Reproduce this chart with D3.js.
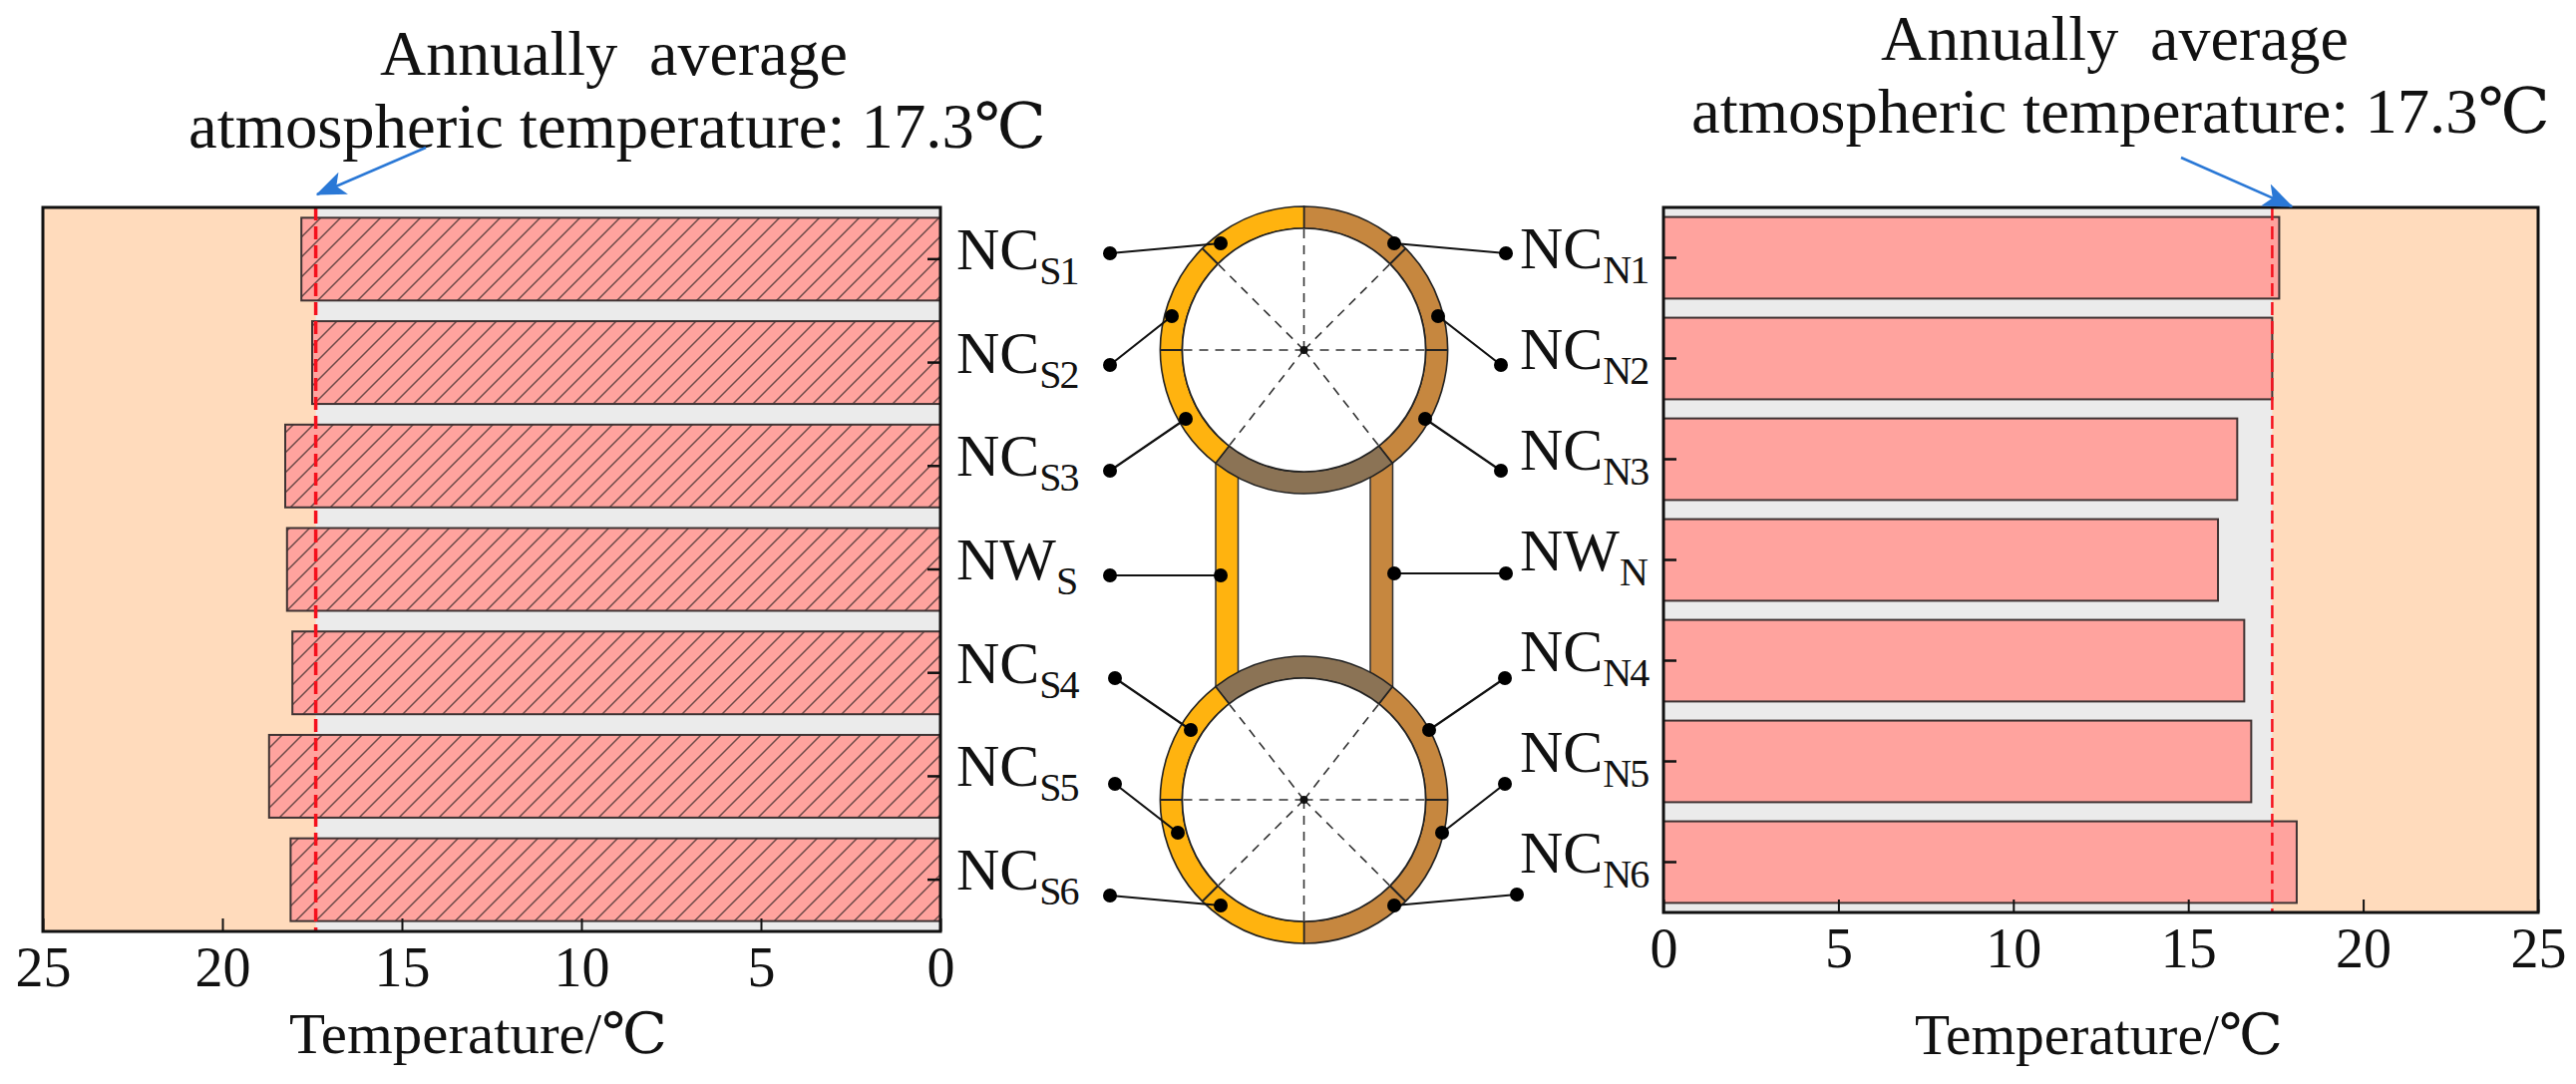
<!DOCTYPE html>
<html>
<head>
<meta charset="utf-8">
<script src="https://cdn.jsdelivr.net/npm/d3@7"></script>
<style>
  body { margin: 0; background: #fff; }
  text { font-family: "Liberation Serif", "DejaVu Serif", "Noto Sans CJK SC", serif; fill: #111; }
</style>
</head>
<body>
<div id="chart"></div>
<script>
const southLabels = ["NCS1", "NCS2", "NCS3", "NWS", "NCS4", "NCS5", "NCS6"];
const northLabels = ["NCN1", "NCN2", "NCN3", "NWN", "NCN4", "NCN5", "NCN6"];
const southTemps = [17.8, 17.5, 18.25, 18.2, 18.05, 18.7, 18.1];
const northTemps = [17.6, 17.4, 16.4, 15.85, 16.6, 16.8, 18.1];
const tempTicks = [0, 5, 10, 15, 20, 25];
const tempMax = 25;
const refTemp = 17.4; // where the dashed line sits, the caption rounds it to 17.3
const captionLines = ["Annually  average", "atmospheric temperature: 17.3℃"];
const axisTitle = "Temperature/℃";

// schematic geometry of the cross section, not data
const leadersSouth = [
  [1113, 254, 1224, 244], [1113, 366, 1175, 317], [1113, 472, 1189, 420],
  [1113, 577, 1224, 577], [1118, 680, 1194, 732], [1118, 786, 1181, 835],
  [1113, 898, 1224, 908]
];
const leadersNorth = [
  [1510, 254, 1398, 244], [1505, 366, 1442, 317], [1505, 472, 1429, 420],
  [1510, 575, 1398, 575], [1509, 680, 1433, 732], [1509, 786, 1446, 835],
  [1521, 897, 1398, 908]
];

const svg = d3.select("#chart").append("svg")
  .attr("width", 2583)
  .attr("height", 1087)
  .style("display", "block");

const defs = svg.append("defs");
defs.append("pattern")
  .attr("id", "hatch")
  .attr("patternUnits", "userSpaceOnUse")
  .attr("width", 20)
  .attr("height", 20)
  .call((p) => p.append("rect").attr("width", 20).attr("height", 20).attr("fill", "#ffa39e"))
  .call((p) => p.append("path")
    .attr("d", "M-5,5L5,-5M0,20L20,0M15,25L25,15")
    .attr("stroke", "#6e4a48")
    .attr("stroke-width", 1.5));
defs.append("marker")
  .attr("id", "arrow")
  .attr("viewBox", "0 0 20 16")
  .attr("refX", 19)
  .attr("refY", 8)
  .attr("markerUnits", "userSpaceOnUse")
  .attr("markerWidth", 30)
  .attr("markerHeight", 24)
  .attr("orient", "auto")
  .append("path")
  .attr("d", "M0,0L20,8L0,16L5,8Z")
  .attr("fill", "#2a78d6");

function drawPanel({ labels, temps, xRange, yRange, padding, hatched, side }) {
  const x = d3.scaleLinear().domain(side === "south" ? [tempMax, 0] : [0, tempMax]).range(xRange);
  const y = d3.scaleBand().domain(labels).range(yRange).paddingInner(padding).paddingOuter(padding / 2);
  const g = svg.append("g");
  const xZero = x(0);
  const rectX = (v) => Math.min(xZero, x(v));
  const rectW = (v) => Math.abs(x(v) - xZero);

  // background, grey below the atmospheric temperature and peach above it
  g.append("rect")
    .attr("x", Math.min(x(tempMax), xZero))
    .attr("y", yRange[0])
    .attr("width", rectW(tempMax))
    .attr("height", yRange[1] - yRange[0])
    .attr("fill", "#ffdbbc");
  g.append("rect")
    .attr("x", rectX(refTemp))
    .attr("y", yRange[0])
    .attr("width", rectW(refTemp))
    .attr("height", yRange[1] - yRange[0])
    .attr("fill", "#ebebeb");

  g.selectAll(".bar")
    .data(labels)
    .join("rect")
    .attr("class", "bar")
    .attr("x", (d, i) => rectX(temps[i]))
    .attr("y", (d) => y(d))
    .attr("width", (d, i) => rectW(temps[i]))
    .attr("height", y.bandwidth())
    .attr("fill", hatched ? "url(#hatch)" : "#ffa39e")
    .attr("stroke", "#3f3333")
    .attr("stroke-width", 2);

  g.append("line")
    .attr("x1", x(refTemp))
    .attr("x2", x(refTemp))
    .attr("y1", yRange[0])
    .attr("y2", yRange[1])
    .attr("stroke", "#f5101c")
    .attr("stroke-width", hatched ? 3.5 : 2.5)
    .attr("stroke-dasharray", "13 6");

  const xAxis = d3.axisBottom(x)
    .tickValues(tempTicks)
    .tickSizeInner(-13)
    .tickSizeOuter(0)
    .tickPadding(15);
  const gx = g.append("g")
    .attr("transform", `translate(0,${yRange[1]})`)
    .call(xAxis);
  gx.selectAll("text").attr("font-size", 56).style("font-family", "'Liberation Serif'");
  gx.selectAll(".tick line").attr("stroke", "#111").attr("stroke-width", 2);

  const yAxis = (side === "south" ? d3.axisLeft(y) : d3.axisRight(y))
    .tickSizeInner(13)
    .tickSizeOuter(0)
    .tickFormat("");
  const gy = g.append("g")
    .attr("transform", `translate(${xZero},0)`)
    .call(yAxis);
  gy.selectAll(".tick line").attr("stroke", "#111").attr("stroke-width", 2.5);
  gy.select(".domain").remove();
  gx.select(".domain").remove();

  g.append("rect")
    .attr("x", Math.min(x(tempMax), xZero))
    .attr("y", yRange[0])
    .attr("width", rectW(tempMax))
    .attr("height", yRange[1] - yRange[0])
    .attr("fill", "none")
    .attr("stroke", "#111")
    .attr("stroke-width", 3);

  return { x, y };
}

const south = drawPanel({
  labels: southLabels, temps: southTemps, xRange: [43, 943], yRange: [208, 934],
  padding: 0.2, hatched: true, side: "south"
});
const north = drawPanel({
  labels: northLabels, temps: northTemps, xRange: [1668, 2545], yRange: [208, 915],
  padding: 0.19, hatched: false, side: "north"
});

// stretched to the width of the serif face in the original figure
function fitText(x, y, size, width, str) {
  svg.append("text")
    .attr("x", x)
    .attr("y", y)
    .attr("font-size", size)
    .attr("textLength", width)
    .attr("lengthAdjust", "spacingAndGlyphs")
    .style("white-space", "pre")
    .text(str);
}
fitText(381, 75, 63, 469, captionLines[0]);
fitText(189, 148, 63, 860, captionLines[1]);
fitText(1886, 60, 63, 469, captionLines[0]);
fitText(1696, 133, 63, 861, captionLines[1]);
fitText(290, 1056, 57, 379, axisTitle);
fitText(1920, 1057, 57, 369, axisTitle);

svg.append("line")
  .attr("x1", 427).attr("y1", 148).attr("x2", 318).attr("y2", 195)
  .attr("stroke", "#2a78d6").attr("stroke-width", 2.5).attr("marker-end", "url(#arrow)");
svg.append("line")
  .attr("x1", 2187).attr("y1", 158).attr("x2", 2298).attr("y2", 207)
  .attr("stroke", "#2a78d6").attr("stroke-width", 2.5).attr("marker-end", "url(#arrow)");

// cross section: two rings joined by the side walls
const cx = 1307.5;
const outerR = 144;
const innerR = 122;
const rad = Math.PI / 180;
const ringArc = d3.arc().innerRadius(innerR).outerRadius(outerR);
const orange = "#ffb30f";
const brown = "#c6873f";
const slab = "#8b7355";

const section = svg.append("g");
[[1219, orange], [1374, brown]].forEach(([wallX, fill]) => {
  section.append("rect")
    .attr("x", wallX)
    .attr("y", 460)
    .attr("width", 22.5)
    .attr("height", 232)
    .attr("fill", fill)
    .attr("stroke", "#333")
    .attr("stroke-width", 1.5);
});

function drawRing(cy, slabAt, spokes) {
  const flip = slabAt === 180 ? 1 : -1;
  const ring = section.append("g").attr("transform", `translate(${cx},${cy})`);
  const sectors = slabAt === 180
    ? [[0, 142, brown], [142, 218, slab], [218, 360, orange]]
    : [[38, 180, brown], [-38, 38, slab], [180, 322, orange]];
  ring.selectAll("path")
    .data(sectors)
    .join("path")
    .attr("d", (d) => ringArc({ startAngle: d[0] * rad, endAngle: d[1] * rad }))
    .attr("fill", (d) => d[2])
    .attr("stroke", "#222")
    .attr("stroke-width", 1.6);
  ring.append("circle").attr("r", innerR).attr("fill", "#fff").attr("stroke", "#222").attr("stroke-width", 1.6);
  ring.selectAll(".spoke")
    .data(spokes)
    .join("line")
    .attr("class", "spoke")
    .attr("x2", (a) => innerR * Math.sin(a * rad))
    .attr("y2", (a) => -innerR * Math.cos(a * rad))
    .attr("stroke", "#333")
    .attr("stroke-width", 1.6)
    .attr("stroke-dasharray", "9 7");
  ring.selectAll(".divider")
    .data([45, -45, 90, -90])
    .join("line")
    .attr("class", "divider")
    .attr("x1", (a) => innerR * Math.sin(a * rad))
    .attr("y1", (a) => -innerR * Math.cos(a * rad) * flip)
    .attr("x2", (a) => outerR * Math.sin(a * rad))
    .attr("y2", (a) => -outerR * Math.cos(a * rad) * flip)
    .attr("stroke", "#222")
    .attr("stroke-width", 2);
  ring.append("circle").attr("r", 4).attr("fill", "#111");
}
drawRing(351, 180, [0, 45, 90, 142, 218, 270, 315]);
drawRing(802, 0, [38, 90, 135, 180, 225, 270, 322]);

const leaders = svg.append("g");
leaders.selectAll("line")
  .data([...leadersSouth, ...leadersNorth])
  .join("line")
  .attr("x1", (d) => d[0]).attr("y1", (d) => d[1])
  .attr("x2", (d) => d[2]).attr("y2", (d) => d[3])
  .attr("stroke", "#111")
  .attr("stroke-width", 2.2);
leaders.selectAll("circle")
  .data([...leadersSouth, ...leadersNorth].flatMap((d) => [[d[0], d[1]], [d[2], d[3]]]))
  .join("circle")
  .attr("cx", (d) => d[0])
  .attr("cy", (d) => d[1])
  .attr("r", 7)
  .attr("fill", "#000");

// band labels, a two letter name with the position as subscript
function drawBandLabels(labels, y, x) {
  const t = svg.append("g").selectAll("text")
    .data(labels)
    .join("text")
    .attr("x", x)
    .attr("y", (d) => y(d) + y.bandwidth() / 2 + 10)
    .attr("font-size", 60);
  t.append("tspan").text((d) => d.slice(0, 2));
  t.append("tspan")
    .attr("dy", 15)
    .attr("font-size", 40)
    .attr("letter-spacing", -2)
    .text((d) => d.slice(2));
}
drawBandLabels(southLabels, south.y, 959);
drawBandLabels(northLabels, north.y, 1524);
</script>
</body>
</html>
